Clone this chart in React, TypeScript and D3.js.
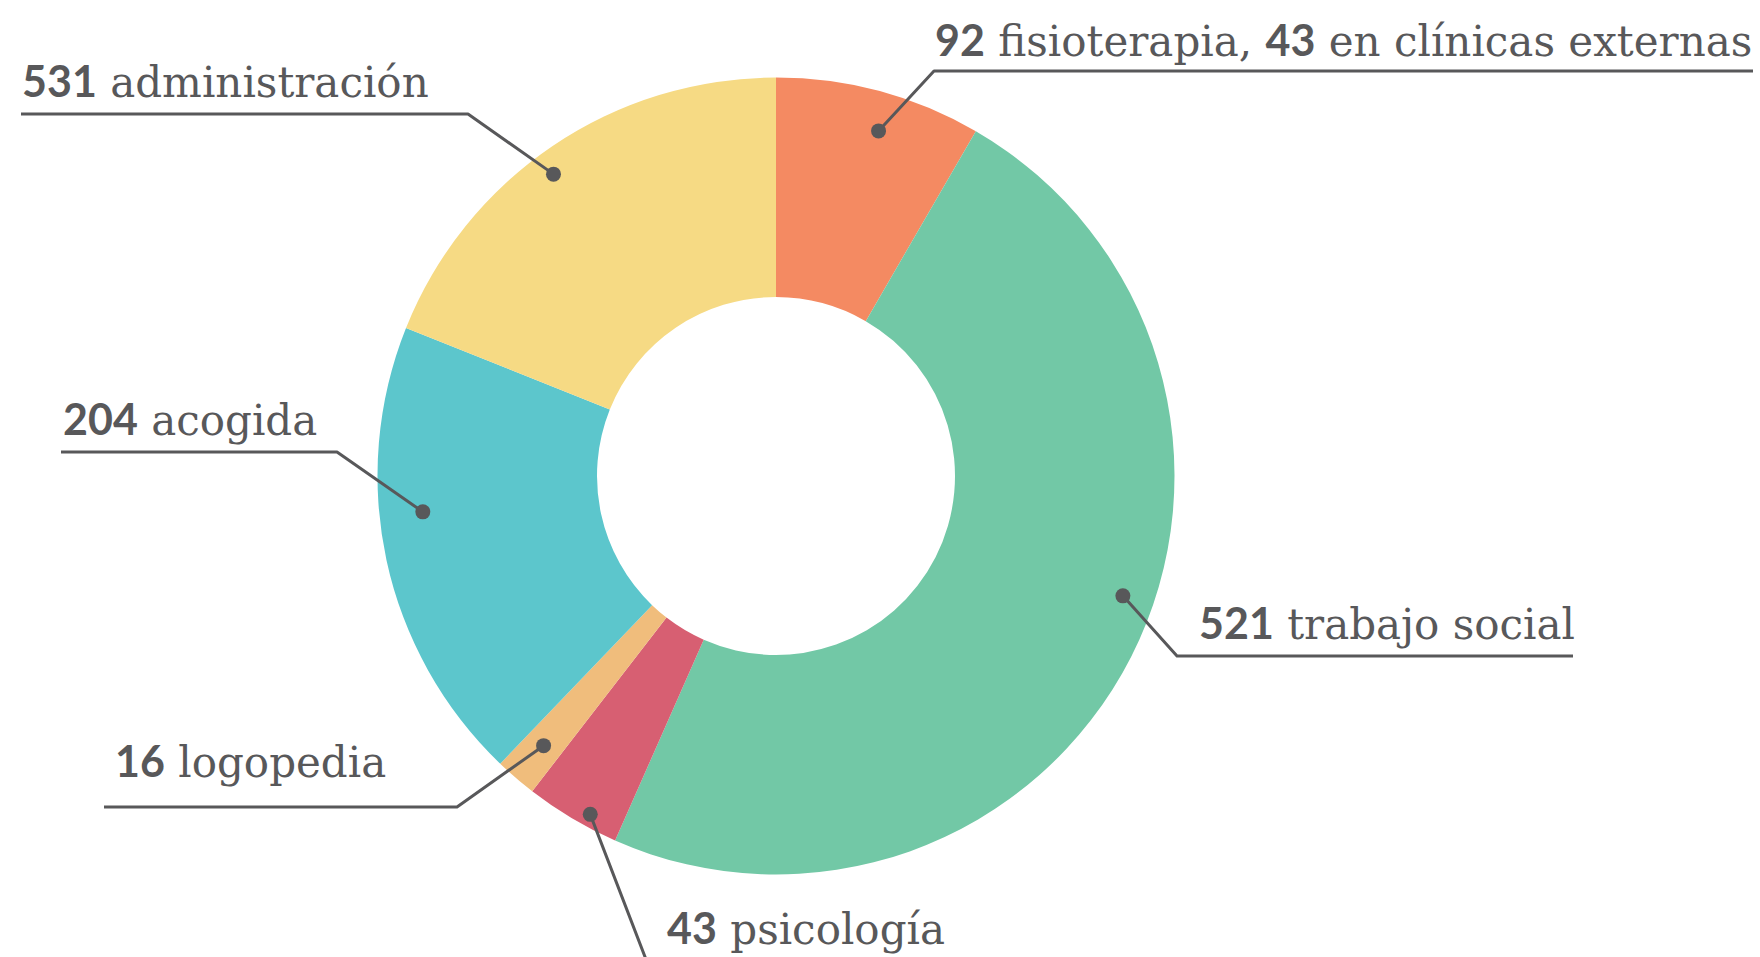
import React from 'react'
import { arc, pie } from 'd3'

// slice sizes (share of the ring, %)
const shares = [8.36, 48.25, 3.86, 1.69, 18.89, 18.94]
// numbers printed on the labels
const counts = [92, 521, 43, 16, 204, 531]
const names = ['fisioterapia', 'trabajo social', 'psicología', 'logopedia', 'acogida', 'administración']
const extraCounts = [43, null, null, null, null, null]
const extraNames = ['en clínicas externas', null, null, null, null, null]
const colors = ['#F48A62', '#72C8A6', '#D75F72', '#F0BD7C', '#5CC6CC', '#F6DA84']

// label placement (pixels), kept apart from the data
const labelLayout = [
  { x: 935, y: 56, lineY: 71, x0: 934, x1: 1753, elbowX: 934, dotShift: 1.5, dotR: 360 },
  { x: 1199, y: 639, lineY: 656, x0: 1177, x1: 1573, elbowX: 1177, dotShift: -7.9, dotR: 367 },
  { x: 667, y: 944, lineY: 962, x0: 647, x1: 960, elbowX: 647, dotShift: -2, dotR: 386 },
  { x: 115, y: 777, lineY: 807, x0: 104, x1: 457, elbowX: 457, dotShift: 0, dotR: 356 },
  { x: 63, y: 435, lineY: 452, x0: 61, x1: 337, elbowX: 337, dotShift: 6.4, dotR: 355 },
  { x: 22, y: 97, lineY: 114, x0: 21, x1: 468, elbowX: 468, dotShift: -2.3, dotR: 375 },
]

const ink = '#58585A'
const numFont = 'Lato, sans-serif'
const wordFont = '"DejaVu Serif", serif'

export default () => {
  const width = 1760
  const height = 957
  const cx = 776
  const cy = 476
  const outerR = 398.5
  const innerR = 179

  const slices = pie<number>().sort(null).value(d => d)(shares)
  const ring = arc<any>().innerRadius(innerR).outerRadius(outerR)

  return (
    <svg
      width={width}
      height={height}
      viewBox={`0 0 ${width} ${height}`}
      style={{ position: 'absolute', left: 0, top: 0, background: '#fff' }}
    >
      <g transform={`translate(${cx}, ${cy})`}>
        {slices.map((s, i) => (
          <path key={i} d={ring(s) || ''} fill={colors[i]} />
        ))}
      </g>
      {slices.map((s, i) => {
        const l = labelLayout[i]
        const a = (s.startAngle + s.endAngle) / 2 + (l.dotShift * Math.PI) / 180
        const dx = cx + l.dotR * Math.sin(a)
        const dy = cy - l.dotR * Math.cos(a)
        const farX = l.elbowX === l.x0 ? l.x1 : l.x0
        return (
          <g key={'l' + i}>
            <path
              d={`M${dx},${dy}L${l.elbowX},${l.lineY}L${farX},${l.lineY}`}
              fill="none"
              stroke={ink}
              strokeWidth={3}
              strokeLinejoin="round"
            />
            <circle cx={dx} cy={dy} r={7.5} fill={ink} />
            <text x={l.x} y={l.y} fill={ink} fontSize={42}>
              <tspan fontFamily={numFont} fontWeight={700} fontSize={43}>{counts[i]}</tspan>
              <tspan fontFamily={wordFont}>{' ' + names[i]}</tspan>
              {extraCounts[i] != null && (
                <>
                  <tspan fontFamily={wordFont}>{', '}</tspan>
                  <tspan fontFamily={numFont} fontWeight={700} fontSize={43}>{extraCounts[i]}</tspan>
                  <tspan fontFamily={wordFont}>{' ' + extraNames[i]}</tspan>
                </>
              )}
            </text>
          </g>
        )
      })}
    </svg>
  )
}
